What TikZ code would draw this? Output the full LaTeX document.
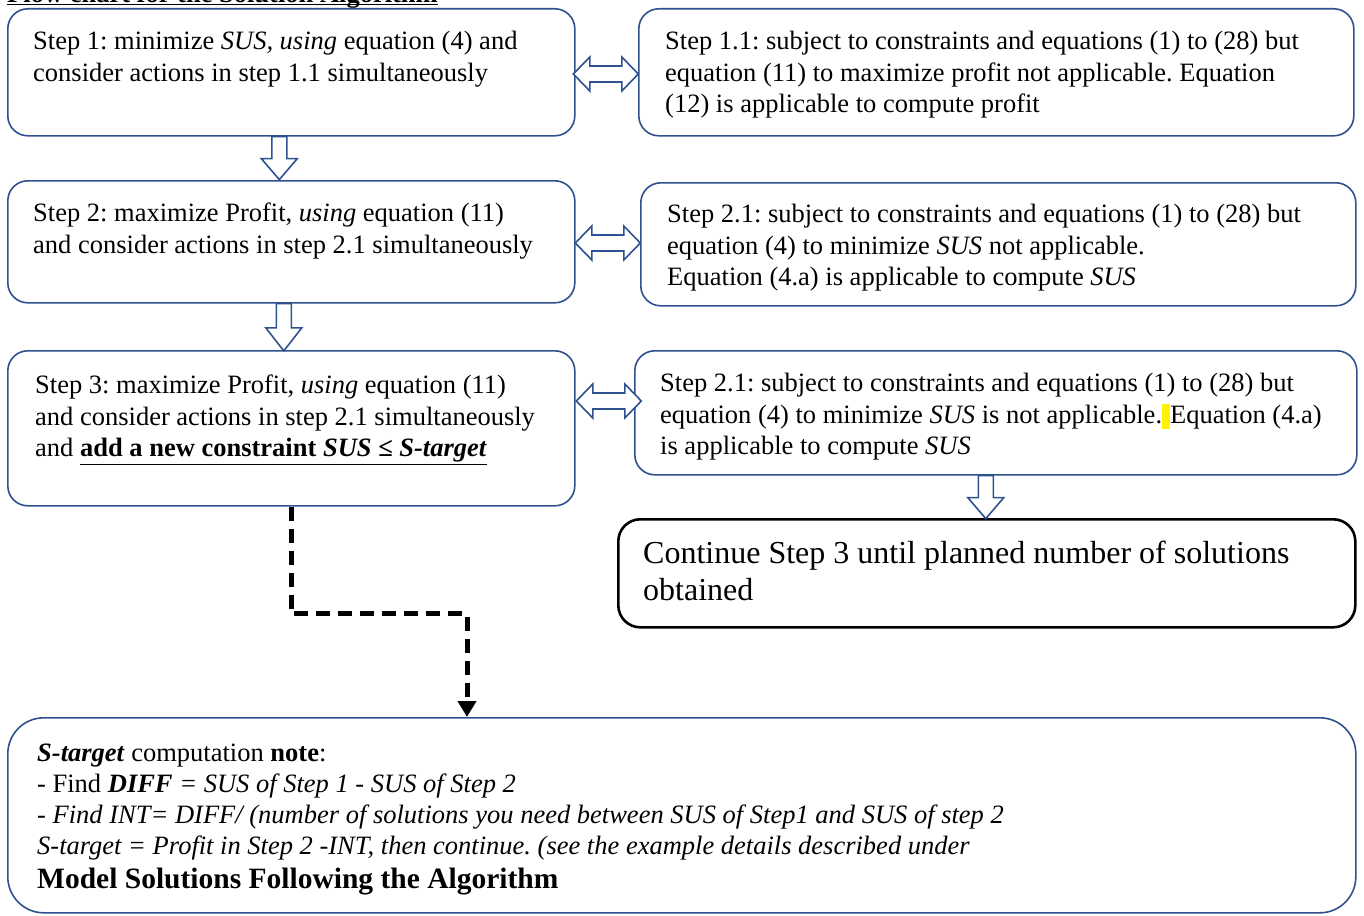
\documentclass[tikz,border=0pt]{standalone}
\usepackage{fontspec}
\setmainfont{Liberation Serif}
\usetikzlibrary{arrows.meta,calc,positioning}
\definecolor{boxblue}{HTML}{2F528F}
\newcommand{\hlgap}{{\setlength{\fboxsep}{0pt}\colorbox{yellow}{\rule[-6pt]{0pt}{25pt}\hspace{8pt}}}}
\frenchspacing

\begin{document}
\begin{tikzpicture}[x=1pt,y=-1pt,
		bluebox/.style={draw=boxblue, line width=1.6pt, rounded corners=20pt, inner sep=0pt, anchor=north west},
		blackbox/.style={draw=black, line width=2.6pt, rounded corners=22pt, inner sep=0pt, anchor=north west},
		txt/.style={font=\fontsize{26.5}{31.5}\selectfont, align=left, inner sep=0pt, anchor=north west},
		blockarrow/.style={draw=boxblue, line width=1.6pt, fill=white, line join=miter},
		dashline/.style={line width=5pt, dash pattern=on 14pt off 8pt, -{Triangle[length=16pt,width=18pt]}},
		dblarrow/.pic={\draw[blockarrow] (-32.5,0) -- (-16,-17) -- (-16,-8) -- (16,-8) -- (16,-17) -- (32.5,0) -- (16,17) -- (16,8) -- (-16,8) -- (-16,17) -- cycle;},
		downarrow/.pic={\draw[blockarrow] (-7.5,0) -- (7.5,0) -- (7.5,22) -- (18,22) -- (0,43) -- (-18,22) -- (-7.5,22) -- cycle;}]
	\useasboundingbox (0,0) rectangle (1364,915);

	% title, cut by the page edge
	\node[txt, anchor=base west, font=\fontsize{26.5}{30}\selectfont\bfseries] (title) at (7,2.5) {Flow chart for the Solution Algorithm};
	\draw[line width=1.5pt] ($(title.base west)+(0,2)$) -- ($(title.base east)+(0,2)$);

	% boxes
	\node[bluebox, minimum width=567pt, minimum height=127pt] (s1) at (7,8) {};
	\node[bluebox, minimum width=715pt, minimum height=127pt] (s11) at (638,8) {};
	\node[bluebox, minimum width=567pt, minimum height=122pt] (s2) at (7,180) {};
	\node[bluebox, minimum width=715pt, minimum height=123pt] (s21) at (640,182) {};
	\node[bluebox, minimum width=567pt, minimum height=155pt] (s3) at (7,350) {};
	\node[bluebox, minimum width=722pt, minimum height=124pt] (s31) at (634,350) {};
	\node[blackbox, minimum width=737pt, minimum height=108pt] (cont) at (617,518) {};
	\node[bluebox, rounded corners=36pt, minimum width=1348pt, minimum height=195pt] (note) at (7,717) {};

	% texts
	\node[txt] (t1) at (33,31) {Step 1: minimize \textit{SUS, using} equation (4) and\\consider actions in step 1.1 simultaneously};
	\node[txt] (t11) at (665,31) {Step 1.1: subject to constraints and equations (1) to (28) but\\equation (11) to maximize profit not applicable. Equation\\(12) is applicable to compute profit};
	\node[txt] (t2) at (33,203) {Step 2: maximize Profit, \textit{using} equation (11)\\and consider actions in step 2.1 simultaneously};
	\node[txt] (t21) at (667,204) {Step 2.1: subject to constraints and equations (1) to (28) but\\equation (4) to minimize \textit{SUS} not applicable.\\Equation (4.a) is applicable to compute \textit{SUS}};
	\node[txt] (t3) at (35,375) {Step 3: maximize Profit, \textit{using} equation (11)\\and consider actions in step 2.1 simultaneously\\and \underline{\textbf{add a new constraint \textit{SUS} ≤ \textit{S-target}}}};
	\node[txt] (t31) at (660,373) {Step 2.1: subject to constraints and equations (1) to (28) but\\equation (4) to minimize \textit{SUS} is not applicable.\hlgap Equation (4.a)\\is applicable to compute \textit{SUS}};
	\node[txt, font=\fontsize{32}{37}\selectfont] (tc) at (643,541) {Continue Step 3 until planned number of solutions\\obtained};
	\node[txt, font=\fontsize{26.5}{31}\selectfont] (tn) at (37,744) {\textbf{\textit{S-target}} computation \textbf{note}:\\- Find \textbf{\textit{DIFF}} \textit{= SUS of Step 1 - SUS of Step 2}\\\textit{- Find INT= DIFF/ (number of solutions you need between SUS of Step1 and SUS of step 2}\\\textit{S-target = Profit in Step 2 -INT, then continue. (see the example details described under}};
	\node[txt, font=\fontsize{29.5}{33}\selectfont\bfseries] (tm) at (37,868) {Model Solutions Following the Algorithm};

	% block arrows
	\pic at ($(s1.north east)!0.5!(s11.north west)+(-1,66)$) {dblarrow};
	\pic at ($(s2.north east)!0.5!(s21.north west)+(0,62)$) {dblarrow};
	\pic at ($(s3.north east)!0.5!(s31.north west)+(4,51)$) {dblarrow};
	\pic at ($(s1.south)+(-12,0)$) {downarrow};
	\pic[yscale=1.1] at ($(s2.south)+(-7.5,0)$) {downarrow};
	\pic at ($(s31.south)+(-10,0)$) {downarrow};

	% dashed connector
	\draw[dashline] (s3.south) -- ++(0,107) -| ($(note.north west)+(460,0)$);
\end{tikzpicture}
\end{document}
